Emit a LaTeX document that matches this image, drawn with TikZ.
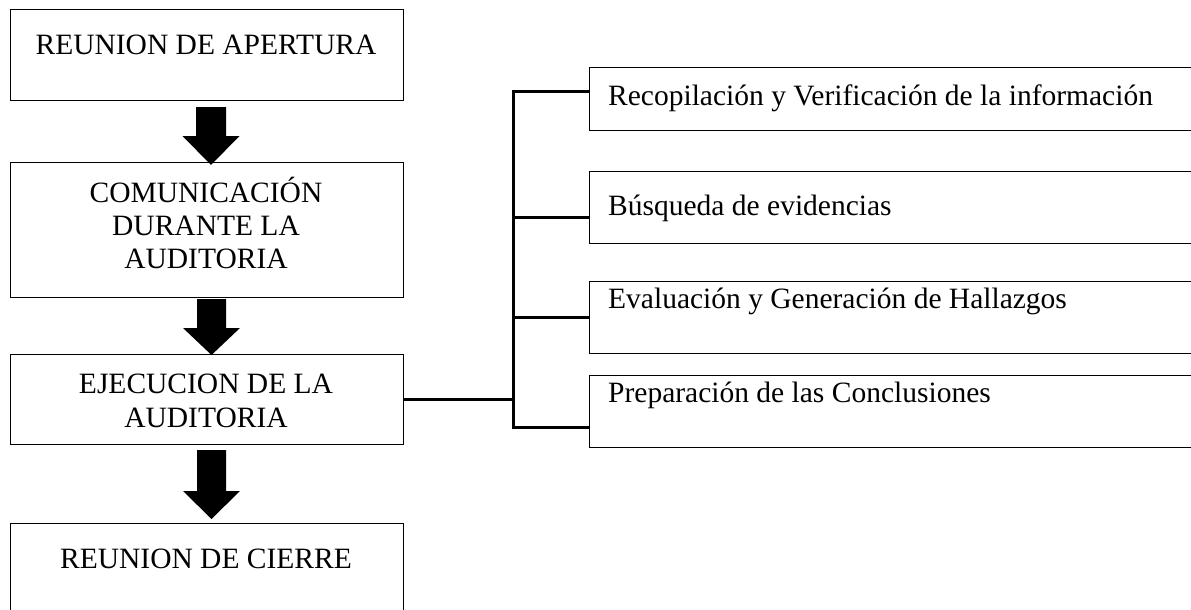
\documentclass[tikz,border=0pt]{standalone}
\usepackage{fontspec}
\setmainfont{Liberation Serif}
\begin{document}
\begin{tikzpicture}[x=1pt,y=-1pt,
  box/.style={draw=black,line width=1pt,inner sep=0pt},
  lbl/.style={font=\fontsize{29.5}{33}\selectfont,inner sep=0pt,anchor=base},
  rlbl/.style={font=\fontsize{29.5}{33}\selectfont,inner sep=0pt,anchor=base west},
  conn/.style={line width=3pt,black},
  barrow/.style={fill=black,draw=none}]
\clip (0,0) rectangle (1191,610);
% left boxes
\node[box,minimum width=393pt,minimum height=90pt] (b1) at (206.5,55) {};
\node[box,minimum width=393pt,minimum height=135pt] (b2) at (206.5,229.5) {};
\node[box,minimum width=393pt,minimum height=90pt] (b3) at (206.5,399.5) {};
\node[box,minimum width=393pt,minimum height=130pt] (b4) at (206.5,588) {};
\node[lbl] (t1) at (206,55) {REUNION DE APERTURA};
\node[lbl] (t2a) at (206,202) {COMUNICACIÓN};
\node[lbl] (t2b) at (206,235) {DURANTE LA};
\node[lbl] (t2c) at (206,268) {AUDITORIA};
\node[lbl] (t3a) at (206,393) {EJECUCION DE LA};
\node[lbl] (t3b) at (206,427) {AUDITORIA};
\node[lbl] (t4) at (206,568) {REUNION DE CIERRE};
% block arrows
\fill[barrow] (196,107) -- (226,107) -- (226,136) -- (239.5,136) -- (211,165) -- (182.5,136) -- (196,136) -- cycle;
\fill[barrow] (197,299) -- (226,299) -- (226,328) -- (240,328) -- (211.5,355) -- (183,328) -- (197,328) -- cycle;
\fill[barrow] (197,450) -- (226,450) -- (226,491) -- (240,491) -- (211.5,519) -- (183,491) -- (197,491) -- cycle;
% right boxes
\node[box,minimum width=700pt,minimum height=63pt,anchor=north west] (r1) at (589,67) {};
\node[box,minimum width=700pt,minimum height=72pt,anchor=north west] (r2) at (589,171) {};
\node[box,minimum width=700pt,minimum height=72pt,anchor=north west] (r3) at (589,281) {};
\node[box,minimum width=700pt,minimum height=72pt,anchor=north west] (r4) at (589,375) {};
\node[rlbl] (s1) at (608,105) {Recopilación y Verificación de la información};
\node[rlbl] (s2) at (608,215) {Búsqueda de evidencias};
\node[rlbl] (s3) at (608,308) {Evaluación y Generación de Hallazgos};
\node[rlbl] (s4) at (608,402) {Preparación de las Conclusiones};
% connectors
\coordinate (sptop) at (513,91);
\coordinate (sp2) at (513,217);
\coordinate (sp3) at (513,317);
\coordinate (spbot) at (513,427);
\draw[conn] (b3.east) -- (b3.east -| sptop);
\draw[conn] (r1.west|-sptop) -- (sptop) -- (spbot) -- (r4.west|-spbot);
\draw[conn] (sp2) -- (r2.west|-sp2);
\draw[conn] (sp3) -- (r3.west|-sp3);
\end{tikzpicture}
\end{document}
